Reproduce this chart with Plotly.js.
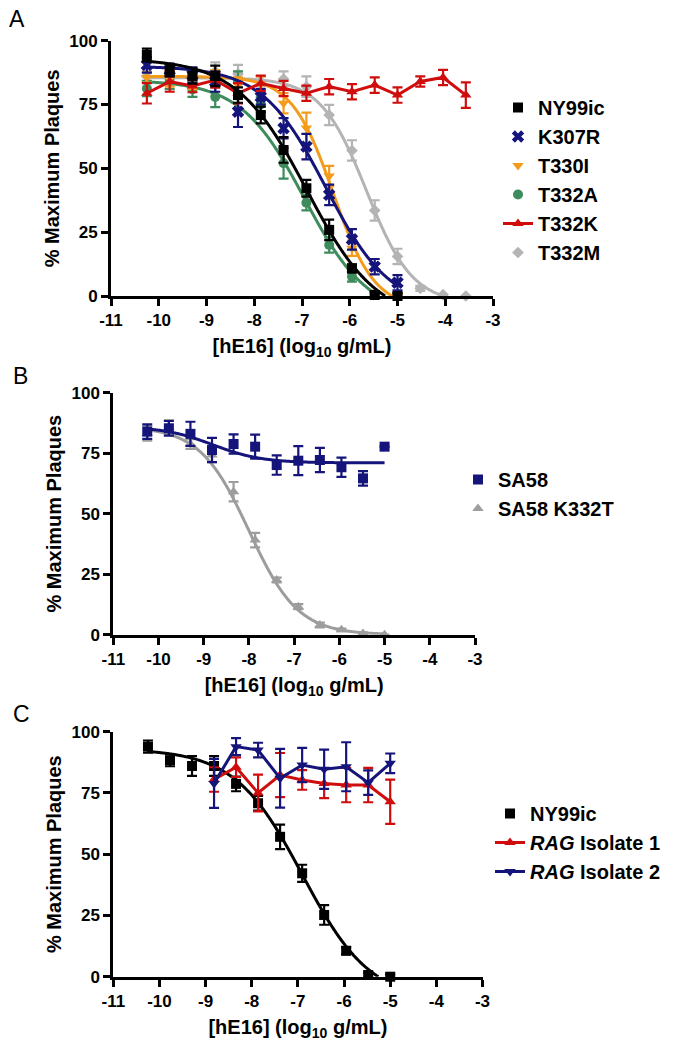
<!DOCTYPE html>
<html><head><meta charset="utf-8">
<script src="https://cdn.plot.ly/plotly-3.0.1.min.js"></script>
<style>html,body{margin:0;padding:0;background:#fff}#chart{width:674px;height:1050px}</style>
</head><body><div id="chart"></div>
<script>
// ---- data (log10 g/mL concentrations, % maximum plaques) ----
const conc = [-10.249, -9.771, -9.294, -8.817, -8.340, -7.863, -7.386, -6.908, -6.431, -5.954, -5.477, -5.000];
const concExt = [-10.249, -9.771, -9.294, -8.817, -8.340, -7.863, -7.386, -6.908, -6.431, -5.954, -5.477, -5.000, -4.523, -4.046, -3.569];
const concRag = [-8.817, -8.340, -7.863, -7.386, -6.908, -6.431, -5.954, -5.477, -5.000];

// Panel A
const ny99 = [94.4, 88.3, 86.2, 86.2, 78.7, 70.9, 57.2, 42.2, 25.9, 10.8, 0.4, 0];
const ny99Err = [2.5, 2.3, 3, 4, 3, 3.3, 5, 3.3, 4, 1.6, 1, 1];
const k307r = [90.5, 88.5, 86.6, 84, 72.2, 78, 65.7, 58.5, 39.6, 22.2, 11.5, 5.2];
const k307rErr = [3, 2.5, 3, 4, 6, 3, 4, 5, 4, 4, 3, 3];
const t330i = [85.6, 85, 84, 85.5, 82.6, 83, 75.5, 65.8, 47, 18.7, 1, 0];
const t330iErr = [2, 3, 3, 3, 3, 3, 4, 6, 4, 3, 1, 1];
const t332a = [81.3, 84, 81, 78, 84, 75, 52, 36.5, 20, 7.6, 0.5, 0];
const t332aErr = [3, 3, 3, 4, 4, 3, 6, 3, 3, 2, 1, 1];
const t332k = [79.4, 84, 82.3, 84.6, 79.4, 83.3, 81.3, 79.4, 82, 80, 82.6, 78.7, 84, 85.6, 78.7];
const t332kErr = [4, 4, 2.5, 3, 4, 3, 3, 3, 3, 3, 3, 3, 2, 3, 5];
const t332m = [86, 85, 85, 88, 87, 84, 85, 82, 70.9, 57, 33.5, 15.5, 3, 0.5, 0];
const t332mErr = [2, 2, 2, 3.5, 3.5, 2, 3, 4, 4, 4, 4, 3, 1, 0, 0];

// Panel B
const sa58 = [83.9, 85.3, 83, 76.3, 78.8, 77.7, 70.1, 71.9, 72.2, 69.2, 64.6, 77.7];
const sa58Err = [3, 3, 5, 5, 4, 5, 4, 6, 5, 4, 3, 0];
const k332t = [83.2, 85.7, 78.8, 74.3, 59.1, 39.1, 22.6, 11.6, 4, 2, 0.5, 0];
const k332tErr = [3, 3, 2, 3, 4, 3, 1, 1, 1, 0.5, 0.5, 0];

// Panel C
const ny99C = [93.9, 88.4, 86, 86, 78.7, 70.8, 57.1, 42.2, 25.2, 10.6, 0.7, 0];
const ny99CErr = [2.5, 2.5, 4, 4, 3, 3, 5, 3.5, 4, 1.5, 1, 1];
const rag1 = [80.5, 85.5, 75, 82.3, 80.3, 78.9, 78.2, 78.2, 71.4];
const rag1Err = [5, 4, 7.5, 9, 4, 6, 7, 7, 9];
const rag2 = [78.9, 93.9, 92.5, 81, 86.4, 84.7, 85.7, 79.2, 87.1];
const rag2Err = [10, 3.5, 3, 12, 7, 8, 10, 5, 4];

// Fitted dose-response parameters
const fitNames  = ['NY99ic', 'K307R', 'T330I', 'T332A', 'T332M', 'SA58', 'SA58 K332T'];
const fitTop    = [93,   90,   86,    84.5,  85.5,  86,   86];
const fitBottom = [-10,  -5,   -5,    -8,    -3,    71,   0];
const fitLogIC  = [-6.9, -6.5, -6.35, -6.95, -5.65, -8.8, -8.0];
const fitHill   = [0.59, 0.65, 1.0,   0.653, 0.9,   0.8,  0.8];

const xTicks = [-11, -10, -9, -8, -7, -6, -5, -4, -3];
const yTicks = [0, 25, 50, 75, 100];

// ---- helpers ----
const FONT = 'Liberation Sans, Arial, sans-serif';
const C = {black:'#000000', navy:'#14147a', orange:'#f39c1c', green:'#3e8c5c', red:'#d00d0d', grayA:'#b4b4b4', grayB:'#9d9d9d'};

function model(i, x){
  return fitBottom[i] + (fitTop[i]-fitBottom[i])/(1+Math.pow(10,(x-fitLogIC[i])*fitHill[i]));
}
function fitTrace(i, x0, x1, color, xa, ya){
  const xs=[], ys=[];
  const n = Math.round((x1-x0)/0.02);
  for(let k=0;k<=n;k++){
    const x = x0 + (x1-x0)*k/n;
    const y = model(i,x);
    if(y<0){
      let lo = xs[xs.length-1], hi = x;
      for(let j=0;j<40;j++){const m=(lo+hi)/2; if(model(i,m)>0) lo=m; else hi=m;}
      xs.push(lo); ys.push(0); break;
    }
    xs.push(x); ys.push(y);
  }
  return {x:xs, y:ys, mode:'lines', line:{color:color, width:3, shape:'spline'}, xaxis:xa, yaxis:ya,
          showlegend:false, hoverinfo:'skip', cliponaxis:false};
}
function dataTrace(name, xs, ys, errs, color, symbol, size, xa, ya, leg, rank, withLine){
  return {x:xs, y:ys, name:name, mode: withLine ? 'lines+markers' : 'markers',
    marker:{color:color, symbol:symbol, size:size, line:{width:0}},
    line:{color:color, width:3},
    error_y:{type:'data', array:errs, visible:true, color:color, thickness:2.2, width:5},
    xaxis:xa, yaxis:ya, legend:leg, legendrank:rank, cliponaxis:false};
}

const traces = [
  // Panel A
  fitTrace(4, conc[0], -3.6, C.grayA, 'x', 'y'),
  dataTrace('T332M', concExt, t332m, t332mErr, C.grayA, 'diamond', 9, 'x', 'y', 'legend', 6, false),
  fitTrace(3, conc[0], -5.0, C.green, 'x', 'y'),
  dataTrace('T332A', conc, t332a, t332aErr, C.green, 'circle', 10, 'x', 'y', 'legend', 4, false),
  fitTrace(2, conc[0], -5.0, C.orange, 'x', 'y'),
  dataTrace('T330I', conc, t330i, t330iErr, C.orange, 'triangle-down', 10, 'x', 'y', 'legend', 3, false),
  fitTrace(1, conc[0], conc[conc.length-1], C.navy, 'x', 'y'),
  dataTrace('K307R', conc, k307r, k307rErr, C.navy, 'x', 11, 'x', 'y', 'legend', 2, false),
  dataTrace('T332K', concExt, t332k, t332kErr, C.red, 'triangle-up', 10, 'x', 'y', 'legend', 5, true),
  fitTrace(0, conc[0], -5.0, C.black, 'x', 'y'),
  dataTrace('NY99ic', conc, ny99, ny99Err, C.black, 'square', 10, 'x', 'y', 'legend', 1, false),
  // Panel B
  fitTrace(6, conc[0], conc[conc.length-1], C.grayB, 'x2', 'y2'),
  dataTrace('SA58 K332T', conc, k332t, k332tErr, C.grayB, 'triangle-up', 10, 'x2', 'y2', 'legend2', 2, false),
  fitTrace(5, conc[0], conc[conc.length-1], C.navy, 'x2', 'y2'),
  dataTrace('SA58', conc, sa58, sa58Err, C.navy, 'square', 10, 'x2', 'y2', 'legend2', 1, false),
  // Panel C
  fitTrace(0, conc[0], -5.0, C.black, 'x3', 'y3'),
  dataTrace('NY99ic', conc, ny99C, ny99CErr, C.black, 'square', 10, 'x3', 'y3', 'legend3', 1, false),
  dataTrace('<i>RAG</i> Isolate 1', concRag, rag1, rag1Err, C.red, 'triangle-up', 10, 'x3', 'y3', 'legend3', 2, true),
  dataTrace('<i>RAG</i> Isolate 2', concRag, rag2, rag2Err, C.navy, 'triangle-down', 10, 'x3', 'y3', 'legend3', 3, true)
];

const W = 674, H = 1050;
function px2x(p){return p/W;}
function px2y(p){return 1-p/H;}

function xAxis(d0, d1, anchor){
  return {domain:[px2x(d0), px2x(d1)], anchor:anchor, range:[-11,-3], tickvals:xTicks, ticktext:xTicks.map(String),
    showline:true, linewidth:3, linecolor:'#000', ticks:'outside', ticklen:7, tickwidth:3, tickcolor:'#000',
    showgrid:false, zeroline:false, tickfont:{family:FONT, size:17, color:'#000', weight:'bold'},
    title:{text:'[hE16] (log<sub>10</sub> g/mL)', font:{family:FONT, size:20, color:'#000', weight:'bold'}, standoff:10}};
}
function yAxis(top, bottom, anchor){
  return {domain:[px2y(bottom), px2y(top)], anchor:anchor, range:[0,100], tickvals:yTicks, ticktext:yTicks.map(String),
    showline:true, linewidth:3, linecolor:'#000', ticks:'outside', ticklen:7, tickwidth:3, tickcolor:'#000',
    showgrid:false, zeroline:false, tickfont:{family:FONT, size:17, color:'#000', weight:'bold'},
    title:{text:'% Maximum Plaques', font:{family:FONT, size:20, color:'#000', weight:'bold'}, standoff:5}};
}
function legendAt(xp, yp){
  return {x:px2x(xp), y:px2y(yp), xanchor:'left', yanchor:'top', bgcolor:'rgba(0,0,0,0)', borderwidth:0,
    font:{family:FONT, size:20, color:'#000', weight:'bold'}, itemwidth:30, tracegroupgap:0};
}

const layout = {
  width:W, height:H, margin:{l:0, r:0, t:0, b:0}, paper_bgcolor:'#fff', plot_bgcolor:'#fff',
  font:{family:FONT, color:'#000'},
  xaxis: xAxis(111, 493, 'y'),   yaxis: yAxis(40.7, 296, 'x'),
  xaxis2: xAxis(113.3, 475, 'y2'), yaxis2: yAxis(392.7, 634.7, 'x2'),
  xaxis3: xAxis(113.3, 482.5, 'y3'), yaxis3: yAxis(731.7, 976.7, 'x3'),
  legend: legendAt(498, 88),
  legend2: legendAt(458, 460),
  legend3: legendAt(490, 794),
  annotations: [
    {text:'A', x:px2x(7), y:px2y(18.5), xref:'paper', yref:'paper', xanchor:'left', yanchor:'middle', showarrow:false, font:{family:FONT, size:23, color:'#000'}},
    {text:'B', x:px2x(11), y:px2y(376.5), xref:'paper', yref:'paper', xanchor:'left', yanchor:'middle', showarrow:false, font:{family:FONT, size:23, color:'#000'}},
    {text:'C', x:px2x(11), y:px2y(713.5), xref:'paper', yref:'paper', xanchor:'left', yanchor:'middle', showarrow:false, font:{family:FONT, size:23, color:'#000'}}
  ]
};

Plotly.newPlot('chart', traces, layout, {displayModeBar:false, staticPlot:true});
</script></body></html>
